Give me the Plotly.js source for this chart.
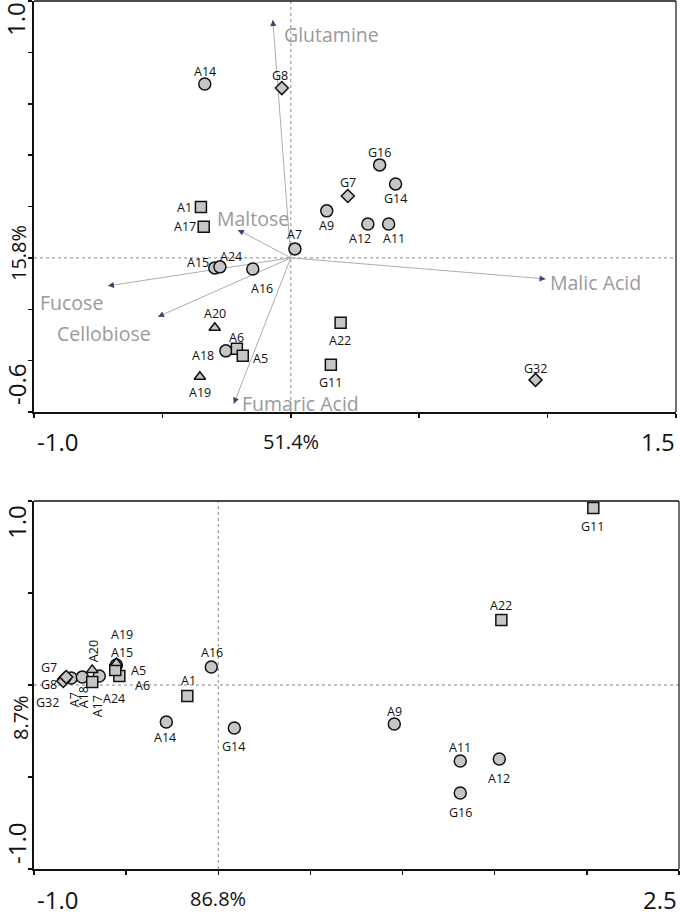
<!DOCTYPE html>
<html><head><meta charset="utf-8">
<script src="https://cdn.plot.ly/plotly-3.0.1.min.js"></script>
<style>html,body{margin:0;padding:0;background:#fff}#chart{width:680px;height:916px}</style>
</head><body><div id="chart"></div>
<script>
// ---------- DATA ----------
const samples = ["A14","G8","A1","A17","A7","A9","A15","A24","A16","A20","A6","A5","A18","A19","A22","G11","G32","G16","G14","G7","A12","A11"];
const sampleShape = ["circle","diamond","square","square","circle","circle","circle","circle","circle","triangle-up","square","square","circle","triangle-up","square","square","diamond","circle","circle","diamond","circle","circle"];
// top biplot (PC1 51.4% vs PC2 15.8%)
const topX = [-0.335,-0.035,-0.350,-0.339,0.016,0.140,-0.296,-0.276,-0.148,-0.296,-0.210,-0.187,-0.253,-0.354,0.194,0.156,0.953,0.346,0.408,0.222,0.300,0.381];
const topY = [0.677,0.661,0.198,0.121,0.035,0.183,-0.039,-0.035,-0.043,-0.272,-0.354,-0.381,-0.362,-0.463,-0.253,-0.416,-0.475,0.362,0.288,0.241,0.132,0.132];
// bottom plot (86.8% vs 8.7%)
const botX = [-0.282,-0.836,-0.168,-0.684,-0.798,0.955,-0.553,-0.646,-0.038,-0.684,-0.537,-0.559,-0.738,-0.553,1.536,2.035,-0.841,1.313,0.087,-0.825,1.525,1.313];
const botY = [-0.201,0.033,-0.060,0.016,0.038,-0.212,0.109,0.049,0.098,0.082,0.049,0.082,0.043,0.120,0.353,0.962,0.022,-0.587,-0.234,0.043,-0.402,-0.413];
// loading vectors in the top biplot
const variables = ["Glutamine","Maltose","Fucose","Cellobiose","Fumaric Acid","Malic Acid"];
const loadX = [-0.070,-0.206,-0.712,-0.517,-0.222,0.992];
const loadY = [0.926,0.109,-0.109,-0.229,-0.568,-0.082];
// axis end labels
const topXLabels = ["-1.0","51.4%","1.5"];
const topYLabels = ["1.0","15.8%","-0.6"];
const botXLabels = ["-1.0","86.8%","2.5"];
const botYLabels = ["1.0","8.7%","-1.0"];

// ---------- STYLE / LAYOUT ----------
const W = 680, H = 916;
const FONT = "Open Sans, Noto Sans, sans-serif";
const px = x => x / W, py = y => 1 - y / H;
const TOP = {l:34, r:676, t:1, b:412}, BOT = {l:34, r:679, t:501, b:869};
const topRange = {x:[-1.0,1.5], y:[-0.6,1.0]}, botRange = {x:[-1.0,2.5], y:[-1.0,1.0]};

// label offsets: [xshift, yshift, xanchor, textangle]
const topOff = {
  A14:[0,12,"center",0], G8:[-2,13,"center",0], A1:[-8,0,"right",0], A17:[-7,0,"right",0],
  A7:[0,14,"center",0], A9:[0,-15,"center",0], A15:[-5,5,"right",0], A24:[11,10,"center",0],
  A16:[9,-20,"center",0], A20:[0,14,"center",0], A6:[0,11,"center",0], A5:[9,-3,"left",0],
  A18:[-11,-5,"right",0], A19:[0,-16,"center",0], A22:[-1,-18,"center",0], G11:[0,-18,"center",0],
  G32:[0,11,"center",0], G16:[0,12,"center",0], G14:[0,-15,"center",0], G7:[0,13,"center",0],
  A12:[-8,-15,"center",0], A11:[5,-15,"center",0]
};
const botOff = {
  G11:[-1,-19,"center",0], A22:[0,15,"center",0], A9:[0,13,"center",0], A11:[0,13,"center",0],
  A12:[0,-20,"center",0], G16:[0,-19,"center",0], A16:[1,14,"center",0], A1:[1,16,"center",0],
  A14:[-1,-16,"center",0], G14:[-1,-18,"center",0], A19:[6,28,"center",0], A15:[6,12,"center",0],
  A5:[15,-1,"left",0], A6:[15,-10,"left",0], A20:[2,19,"center",-90], A7:[3,-22,"center",-90],
  A18:[1,-20,"center",-90], A17:[5,-24,"center",-90], A24:[15,-23,"center",0],
  G7:[-8,10,"right",0], G8:[-6,-6,"right",0], G32:[-3,-22,"right",0]
};
const shapeSize = {"circle":12,"square":11,"triangle-up":10,"diamond":10};

const traces = [];
[["x","y",topX,topY],["x2","y2",botX,botY]].forEach(([xa,ya,xs,ys]) => {
  Object.keys(shapeSize).forEach(sym => {
    const idx = samples.map((s,i)=>i).filter(i => sampleShape[i] === sym);
    traces.push({
      type:"scatter", mode:"markers", xaxis:xa, yaxis:ya, cliponaxis:false, hoverinfo:"text",
      x: idx.map(i=>xs[i]), y: idx.map(i=>ys[i]), text: idx.map(i=>samples[i]),
      marker:{symbol:sym, size:shapeSize[sym], color:"#c6c6c6", line:{color:"#111", width:1.5}},
      showlegend:false
    });
  });
});

const annotations = [];
samples.forEach((s,i) => {
  const o = topOff[s];
  annotations.push({xref:"x", yref:"y", x:topX[i], y:topY[i], text:s, showarrow:false,
    xshift:o[0], yshift:o[1], xanchor:o[2], yanchor:"middle", textangle:o[3], borderpad:0,
    font:{family:FONT, size:12.5, color:"#111"}});
  const b = botOff[s];
  annotations.push({xref:"x2", yref:"y2", x:botX[i], y:botY[i], text:s, showarrow:false,
    xshift:b[0], yshift:b[1], xanchor:b[2], yanchor:"middle", textangle:b[3], borderpad:0,
    font:{family:FONT, size:12.5, color:"#111"}});
});

const shapes = [];
// dotted zero lines
shapes.push({type:"line", xref:"x", yref:"y domain", x0:0, x1:0, y0:0, y1:1, layer:"below", line:{color:"#888", width:1, dash:"dot"}});
shapes.push({type:"line", xref:"x domain", yref:"y", x0:0, x1:1, y0:0, y1:0, layer:"below", line:{color:"#888", width:1, dash:"dot"}});
shapes.push({type:"line", xref:"x2", yref:"y2 domain", x0:0, x1:0, y0:0, y1:1, layer:"below", line:{color:"#888", width:1, dash:"dot"}});
shapes.push({type:"line", xref:"x2 domain", yref:"y2", x0:0, x1:1, y0:0, y1:0, layer:"below", line:{color:"#888", width:1, dash:"dot"}});
// top & right frame lines
[["x","y"],["x2","y2"]].forEach(([xa,ya]) => {
  shapes.push({type:"line", xref:xa+" domain", yref:ya+" domain", x0:0, x1:1, y0:1, y1:1, line:{color:"#111", width:1.5}});
  shapes.push({type:"line", xref:xa+" domain", yref:ya+" domain", x0:1, x1:1, y0:0, y1:1, line:{color:"#111", width:1.2}});
});

// loading vectors
const sx = (TOP.r-TOP.l)/(topRange.x[1]-topRange.x[0]);
const sy = (TOP.b-TOP.t)/(topRange.y[1]-topRange.y[0]);
const vecOff = {
  "Glutamine":[9,-14,"left"], "Maltose":[-23,11,"left"], "Fucose":[-3,-17,"right"],
  "Cellobiose":[-5,-17,"right"], "Fumaric Acid":[6,0,"left"], "Malic Acid":[2,-4,"left"]
};
variables.forEach((v,i) => {
  shapes.push({type:"line", xref:"x", yref:"y", x0:0, y0:0, x1:loadX[i], y1:loadY[i], layer:"below", line:{color:"#adadad", width:1}});
  const dpx = loadX[i]*sx, dpy = -loadY[i]*sy, L = Math.hypot(dpx, dpy);
  annotations.push({xref:"x", yref:"y", x:loadX[i], y:loadY[i],
    ax:-dpx/L*4, ay:-dpy/L*4, text:"", showarrow:true, arrowhead:2, arrowsize:1.2, arrowwidth:1, arrowcolor:"#3f3f70"});
  const o = vecOff[v];
  annotations.push({xref:"x", yref:"y", x:loadX[i], y:loadY[i], text:v, showarrow:false,
    xshift:o[0], yshift:o[1], xanchor:o[2], yanchor:"middle", font:{family:FONT, size:19.5, color:"#9a9a9a"}});
});

// axis end labels (paper coords)
function axLabel(text, x, y, xanchor, size, angle){
  annotations.push({xref:"paper", yref:"paper", x:px(x), y:py(y), text:text, showarrow:false,
    xanchor:xanchor, yanchor:"middle", textangle:angle||0, font:{family:FONT, size:size, color:"#111"}});
}
axLabel(topXLabels[0], 35, 441, "left", 24);
axLabel(topXLabels[1], 291, 441, "center", 20);
axLabel(topXLabels[2], 677, 441, "right", 24);
axLabel(topYLabels[0], 16, 19, "center", 24, -90);
axLabel(topYLabels[1], 18, 253, "center", 20, -90);
axLabel(topYLabels[2], 16, 385, "center", 24, -90);
axLabel(botXLabels[0], 35, 899, "left", 24);
axLabel(botXLabels[1], 218, 898, "center", 20);
axLabel(botXLabels[2], 679, 899, "right", 24);
axLabel(botYLabels[0], 16, 522, "center", 24, -90);
axLabel(botYLabels[1], 20, 718, "center", 20, -90);
axLabel(botYLabels[2], 16, 844, "center", 24, -90);

function axis(range, dtick, domain, anchor){
  return {range:range, domain:domain, anchor:anchor, tickmode:"linear", tick0:range[0], dtick:dtick,
    showticklabels:false, ticks:"outside", ticklen:4, tickwidth:1.5, tickcolor:"#111",
    showgrid:false, zeroline:false, showline:true, linecolor:"#111", linewidth:2, fixedrange:true};
}

const layout = {
  width:W, height:H, margin:{l:0,r:0,t:0,b:0}, paper_bgcolor:"#fff", plot_bgcolor:"#fff",
  font:{family:FONT}, showlegend:false,
  xaxis: axis(topRange.x, 0.5, [px(TOP.l), px(TOP.r)], "y"),
  yaxis: axis(topRange.y, 0.2, [py(TOP.b), py(TOP.t)], "x"),
  xaxis2: axis(botRange.x, 0.5, [px(BOT.l), px(BOT.r)], "y2"),
  yaxis2: axis(botRange.y, 0.5, [py(BOT.b), py(BOT.t)], "x2"),
  shapes:shapes, annotations:annotations
};

Plotly.newPlot("chart", traces, layout, {displayModeBar:false, staticPlot:true});
</script>
</body></html>
